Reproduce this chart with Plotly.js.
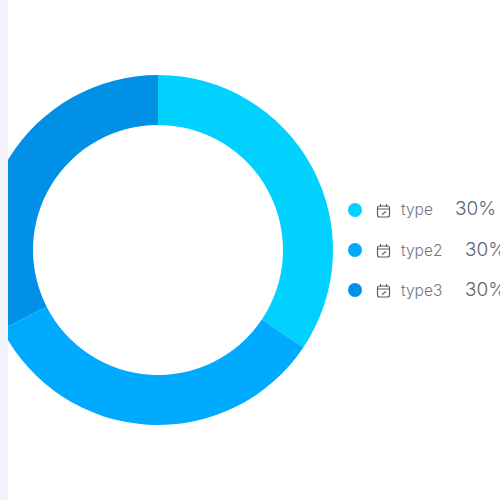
<!DOCTYPE html>
<html><head><meta charset="utf-8">
<script src="https://cdn.plot.ly/plotly-3.0.1.min.js"></script>
<style>html,body{margin:0;padding:0;width:500px;height:500px;overflow:hidden;background:#fff}
#c{position:absolute;left:-17px;top:0;width:517px;height:500px}
#s{position:absolute;left:0;top:0;width:8px;height:500px;background:#f2f3f8}</style>
</head><body><div id="c"></div><div id="s"></div>
<script>
const labels=['type','type2','type3'];
const values=[34.4,33.1,32.5];
const shownPct=['30%','30%','30%'];
const colors=['#00d1ff','#00aaff','#0090e6'];
const rowY=[210,250,290];
const pctX=[454,464,464];
const W=517,H=500,OX=17;
const px=x=>(x+OX)/W, py=y=>1-y/H;
const shapes=[],ann=[];
const icon='#5a5e6a';
const rr=(x0,y0,x1,y1,r)=>{
  const X0=px(x0),X1=px(x1),Y0=py(y0),Y1=py(y1),rx=r/W,ry=r/H;
  return `M${X0+rx},${Y0} L${X1-rx},${Y0} Q${X1},${Y0} ${X1},${Y0-ry} L${X1},${Y1+ry} Q${X1},${Y1} ${X1-rx},${Y1} L${X0+rx},${Y1} Q${X0},${Y1} ${X0},${Y1+ry} L${X0},${Y0-ry} Q${X0},${Y0} ${X0+rx},${Y0} Z`;
};
labels.forEach((l,i)=>{
  const y=rowY[i];
  shapes.push({type:'circle',xref:'paper',yref:'paper',x0:px(348),x1:px(362),y0:py(y-7),y1:py(y+7),fillcolor:colors[i],line:{width:0}});
  shapes.push({type:'path',xref:'paper',yref:'paper',path:rr(377.5,y-4,389.5,y+7,2),fillcolor:'rgba(0,0,0,0)',line:{color:icon,width:1.2}});
  shapes.push({type:'line',xref:'paper',yref:'paper',x0:px(377.5),x1:px(389.5),y0:py(y-1),y1:py(y-1),line:{color:icon,width:1}});
  shapes.push({type:'line',xref:'paper',yref:'paper',x0:px(380.5),x1:px(380.5),y0:py(y-6),y1:py(y-3),line:{color:icon,width:1}});
  shapes.push({type:'line',xref:'paper',yref:'paper',x0:px(386.5),x1:px(386.5),y0:py(y-6),y1:py(y-3),line:{color:icon,width:1}});
  shapes.push({type:'line',xref:'paper',yref:'paper',x0:px(382),x1:px(386),y0:py(y+4.5),y1:py(y+1.5),line:{color:icon,width:1.2}});
  ann.push({xref:'paper',yref:'paper',x:px(399.5),y:py(y),xanchor:'left',yanchor:'middle',text:l,showarrow:false,borderpad:0,font:{family:'Inter, "Noto Sans", sans-serif',size:15.5,color:'#74777f',weight:300}});
  ann.push({xref:'paper',yref:'paper',x:px(pctX[i]),y:py(y-1),xanchor:'left',yanchor:'middle',text:shownPct[i],showarrow:false,borderpad:0,font:{family:'Inter, "Noto Sans", sans-serif',size:19,color:'#62656e',weight:300}});
});
Plotly.newPlot('c',[{type:'pie',labels:labels,values:values,sort:false,direction:'clockwise',rotation:0,hole:125/175,
  marker:{colors:colors,line:{width:0}},textinfo:'none',hoverinfo:'label+percent',
  domain:{x:[0,350/W],y:[75/H,425/H]}}],
 {width:W,height:H,margin:{l:0,r:0,t:0,b:0},showlegend:false,paper_bgcolor:'#fff',shapes:shapes,annotations:ann},
 {displayModeBar:false,staticPlot:true});
</script></body></html>
